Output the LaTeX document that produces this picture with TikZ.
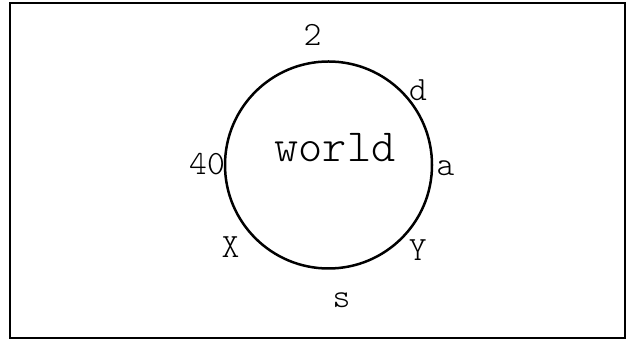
\documentclass[tikz,border=0pt]{standalone}
\begin{document}
\begin{tikzpicture}[x=1pt, y=1pt, every node/.style={font=\ttfamily\fontseries{l}\fontsize{34}{34}\selectfont, inner sep=0pt}]
    \useasboundingbox (0,0) rectangle (626,339);
    \draw[line width=2pt] (10,1) rectangle (625,336);
    \node[circle, draw, line width=2.5pt, minimum size=207pt] (w) at (328.5,174) {};
    \node[font=\ttfamily\fontseries{l}\fontsize{46}{46}\selectfont] (wt) at (335,191) {world};
    \foreach \t/\a/\r in {2/97/131, d/40/117, a/-1.5/117, Y/-43.5/123, s/-84.5/136, X/-140/128, 40/179.5/121.5} {
        \node (l\t) at ([shift={(\a:\r)}]w.center) {\t};
    }
\end{tikzpicture}
\end{document}
